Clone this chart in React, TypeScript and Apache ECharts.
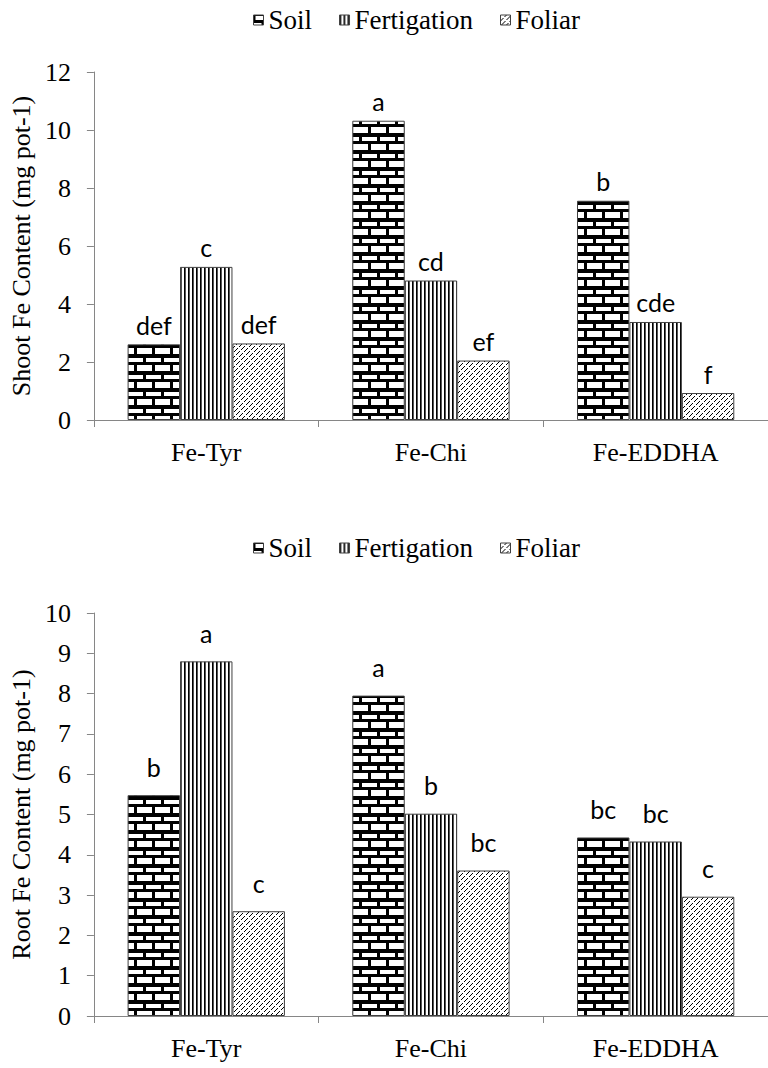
import React, { useEffect, useRef } from "react";
import * as echarts from "echarts";

const categories = ["Fe-Tyr", "Fe-Chi", "Fe-EDDHA"];
const seriesNames = ["Soil", "Fertigation", "Foliar"];

const shootSoil = [2.61, 10.32, 7.56];
const shootFertigation = [5.28, 4.81, 3.38];
const shootFoliar = [2.64, 2.05, 0.93];
const shootSoilLetters = ["def", "a", "b"];
const shootFertigationLetters = ["c", "cd", "cde"];
const shootFoliarLetters = ["def", "ef", "f"];

const rootSoil = [5.48, 7.95, 4.43];
const rootFertigation = [8.8, 5.02, 4.33];
const rootFoliar = [2.6, 3.61, 2.96];
const rootSoilLetters = ["b", "a", "bc"];
const rootFertigationLetters = ["a", "b", "bc"];
const rootFoliarLetters = ["c", "bc", "c"];

const shootAxisName = "Shoot Fe Content (mg pot-1)";
const rootAxisName = "Root Fe Content (mg pot-1)";
const shootMax = 12;
const shootInterval = 2;
const rootMax = 10;
const rootInterval = 1;

const SERIF = "Liberation Serif";
const SANS = "Lato";
const AXIS_GRAY = "#868686";

function makeTile(w: number, h: number, draw: (ctx: CanvasRenderingContext2D) => void) {
  const c = document.createElement("canvas");
  c.width = w;
  c.height = h;
  const ctx = c.getContext("2d") as CanvasRenderingContext2D;
  ctx.fillStyle = "#ffffff";
  ctx.fillRect(0, 0, w, h);
  draw(ctx);
  return { image: c.toDataURL(), repeat: "repeat", imageWidth: w, imageHeight: h } as any;
}

function brickPattern() {
  return makeTile(18, 17, (ctx) => {
    ctx.fillStyle = "#000";
    ctx.fillRect(0, 0, 18, 17);
    ctx.fillStyle = "#fff";
    ctx.fillRect(2, 1, 15, 4);
    ctx.fillRect(11, 8, 7, 6);
    ctx.fillRect(0, 8, 8, 6);
  });
}

function stripePattern() {
  return makeTile(4, 4, (ctx) => {
    ctx.fillStyle = "#000";
    ctx.fillRect(0, 0, 1, 4);
    ctx.fillStyle = "#555";
    ctx.fillRect(1, 0, 1, 4);
  });
}

function diagPattern() {
  return makeTile(10, 10, (ctx) => {
    ctx.fillStyle = "#000";
    for (let y = 0; y < 10; y++) {
      for (let x = 0; x < 10; x++) {
        const c = (x + y) % 10;
        if (c % 5 !== 0) continue;
        const off = c === 5 ? 2 : 0;
        if ((x + off) % 5 === 0) continue;
        ctx.fillRect(x, y, 1, 1);
      }
    }
  });
}

export default function App() {
  const ref = useRef<HTMLDivElement>(null);

  useEffect(() => {
    if (!ref.current) return;
    const chart = echarts.init(ref.current, undefined, { renderer: "svg" });
    const patterns = [brickPattern(), stripePattern(), diagPattern()];

    const mkSeries = (
      idx: number,
      data: number[],
      letters: string[],
      axis: number,
      dist: number
    ) => ({
      type: "bar",
      name: seriesNames[idx],
      data,
      xAxisIndex: axis,
      yAxisIndex: axis,
      barGap: "0%",
      barCategoryGap: "30%",
      silent: true,
      emphasis: { disabled: true },
      itemStyle: { color: patterns[idx], borderColor: "#404040", borderWidth: 1 },
      label: {
        show: true,
        position: "top",
        distance: dist,
        formatter: (p: any) => letters[p.dataIndex],
        fontFamily: SANS,
        fontSize: 25,
        color: "#000",
      },
    });

    const mkX = (gridIndex: number) => ({
      type: "category",
      gridIndex,
      data: categories,
      axisLine: { show: true, lineStyle: { color: AXIS_GRAY, width: 1 } },
      axisTick: { show: true, length: 7, alignWithLabel: false, lineStyle: { color: AXIS_GRAY } },
      axisLabel: { margin: 19, fontFamily: SERIF, fontSize: 26, color: "#000" },
      splitLine: { show: false },
    });

    const mkY = (gridIndex: number, max: number, interval: number, name: string) => ({
      type: "value",
      gridIndex,
      min: 0,
      max,
      interval,
      name,
      nameLocation: "middle",
      nameGap: 48,
      nameTextStyle: { fontFamily: SERIF, fontSize: 26, color: "#000" },
      axisLine: { show: true, lineStyle: { color: AXIS_GRAY, width: 1 } },
      axisTick: { show: true, length: 7, inside: false, lineStyle: { color: AXIS_GRAY } },
      axisLabel: { margin: 23, fontFamily: SERIF, fontSize: 26, color: "#000" },
      splitLine: { show: false },
    });

    const mkLegend = (top: number) => ({
      data: seriesNames,
      left: 248,
      top,
      itemWidth: 10,
      itemHeight: 10,
      itemGap: 27,
      icon: "rect",
      selectedMode: false,
      itemStyle: { borderColor: "#404040", borderWidth: 1 },
      textStyle: { fontFamily: SERIF, fontSize: 27, color: "#000", lineHeight: 28 },
    });

    chart.setOption({
      animation: false,
      backgroundColor: "#ffffff",
      legend: [mkLegend(1), mkLegend(529)],
      grid: [
        { left: 88, top: 72, width: 690, height: 348, containLabel: false },
        { left: 88, top: 613, width: 690, height: 403, containLabel: false },
      ],
      xAxis: [mkX(0), mkX(1)],
      yAxis: [mkY(0, shootMax, shootInterval, shootAxisName), mkY(1, rootMax, rootInterval, rootAxisName)],
      series: [
        mkSeries(0, shootSoil, shootSoilLetters, 0, 7),
        mkSeries(1, shootFertigation, shootFertigationLetters, 0, 7),
        mkSeries(2, shootFoliar, shootFoliarLetters, 0, 7),
        mkSeries(0, rootSoil, rootSoilLetters, 1, 16),
        mkSeries(1, rootFertigation, rootFertigationLetters, 1, 16),
        mkSeries(2, rootFoliar, rootFoliarLetters, 1, 16),
      ],
    } as any);

    return () => chart.dispose();
  }, []);

  return (
    <div
      ref={ref}
      style={{ position: "absolute", left: 0, top: 0, width: 768, height: 1068, overflow: "hidden" }}
    />
  );
}
